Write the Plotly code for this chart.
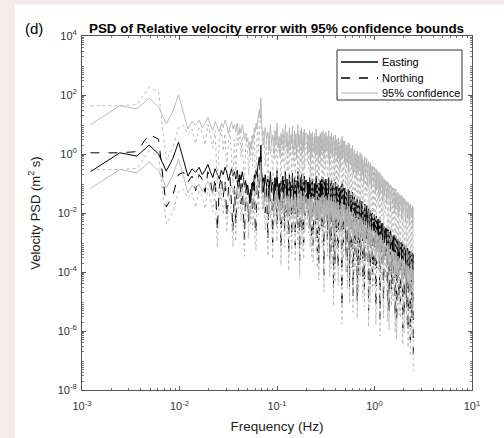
import plotly.graph_objects as go

# ---------------- data ----------------
# frequency resolution of the PSD (Hz per bin)
bin_width_hz = 5.0 / 4096

# low-frequency bins (every bin); values are log10 of PSD (m^2 s)
bins_low = [1, 2, 3, 4, 5, 6, 7, 8, 9, 10, 11, 12, 13, 14, 15, 16, 17, 18, 19, 20,
            21, 22, 23, 24, 25, 26, 27, 28, 29, 30, 31, 32, 33, 34, 35, 36, 37, 38, 39, 40,
            41, 42, 43, 44, 45, 46, 47, 48, 49, 50, 51, 52, 53, 54, 55, 56, 57]
east_low = [-0.60, 0.04, -0.07, 0.30, 0.00, -0.58, -0.15, 0.40, -0.20, -0.75,
            -0.50, -0.62, -0.45, -0.70, -0.55, -0.35, -0.60, -0.80, -0.50, -0.66,
            -0.85, -0.55, -0.70, -0.45, -0.62, -0.90, -0.70, -0.50, -0.75, -0.60,
            -0.85, -0.55, -0.95, -0.70, -0.88, -0.60, -0.80, -1.10, -0.90, -1.20,
            -1.05, -1.35, -1.56, -1.20, -1.40, -0.95, -1.10, -0.70, -0.85, -0.55,
            -0.75, -0.45, -0.30, -0.10, -0.40, 0.30, -0.60]
north_low = [0.04, 0.04, 0.08, 0.67, 0.50, -1.80, -1.40, -0.70, -0.62, -0.95,
             -0.75, -1.25, -0.70, -0.85, -1.30, -0.60, -0.90, -1.40, -0.80, -2.60,
             -1.10, -0.75, -1.50, -0.90, -2.10, -1.20, -0.80, -1.60, -2.60, -1.10,
             -2.40, -0.90, -1.30, -0.75, -1.70, -1.00, -2.20, -2.90, -1.40, -0.90,
             -1.60, -2.30, -1.20, -1.80, -1.00, -2.00, -1.30, -0.80, -2.50, -2.70,
             -1.10, -0.70, -1.50, -0.50, -0.30, -0.20, -1.20]

# middle bins
bins_mid = [58, 60, 62, 64, 66, 68, 70, 72, 74, 76, 78, 80, 82, 84, 86, 88, 90, 92, 94, 96,
            98, 100, 102, 104, 106, 108, 110, 112, 114, 116, 118, 120, 122, 124, 126, 128,
            130, 132, 134, 136, 138, 140, 142, 144, 146, 148, 150, 152, 154, 156, 158, 160]
east_mid = [-0.90, -1.30, -0.70, -1.10, -0.85, -1.50, -0.60, -1.20, -0.95, -1.60,
            -0.80, -1.25, -0.55, -1.40, -1.00, -1.70, -0.90, -1.30, -0.75, -1.50,
            -1.05, -0.60, -1.35, -0.85, -1.60, -1.00, -0.70, -1.45, -0.95, -1.25,
            -0.65, -1.55, -1.10, -0.80, -1.40, -0.90, -1.70, -1.00, -0.60, -1.30,
            -0.95, -1.50, -0.80, -1.20, -0.70, -1.60, -1.00, -0.85, -1.45, -0.75,
            -1.30, -0.90]
north_mid = [-1.30, -0.80, -2.00, -1.00, -2.90, -0.90, -1.60, -1.10, -3.00, -1.00,
             -1.80, -0.85, -2.40, -1.20, -1.50, -1.00, -3.20, -1.10, -1.90, -0.90,
             -2.60, -1.30, -1.00, -2.20, -1.20, -3.40, -1.00, -1.70, -1.10, -2.80,
             -0.95, -1.50, -2.00, -1.10, -3.10, -1.00, -1.80, -1.20, -2.50, -0.90,
             -1.60, -3.60, -1.10, -1.90, -1.00, -2.70, -1.20, -1.50, -3.00, -1.00,
             -2.10, -1.30]

# high-frequency bins (first set)
bins_high = [165, 169, 173, 177, 181, 185, 189, 194, 198, 203,
             207, 212, 217, 222, 227, 232, 237, 243, 248, 254,
             260, 266, 272, 278, 284, 291, 297, 304, 311, 318,
             325, 333, 340, 348, 356, 364, 372, 381, 389, 398,
             407, 416, 426, 435, 445, 455, 466, 476, 487, 498,
             510, 521, 533, 545, 557, 570, 583, 596, 610, 624,
             638, 652, 667, 682, 698, 713, 730, 746, 763, 780,
             798, 816, 835, 854, 873, 893, 913, 934, 955, 976,
             999, 1021, 1044, 1068, 1092, 1117, 1142, 1168, 1195, 1222,
             1249, 1278, 1307, 1336, 1367, 1397, 1429, 1461, 1494, 1528,
             1563, 1598, 1634, 1671, 1709, 1748, 1787, 1828, 1869, 1911,
             1955, 1999, 2024, 2048]
east_high = [-0.90, -1.60, -1.10, -0.80, -1.80, -1.20, -0.85, -1.50, -1.00, -1.70,
             -0.75, -1.30, -1.90, -1.00, -0.90, -1.60, -1.15, -0.80, -1.75, -1.05,
             -0.85, -1.50, -1.20, -0.80, -2.00, -1.10, -0.90, -1.65, -1.00, -1.80,
             -0.95, -1.40, -1.90, -1.05, -1.30, -2.10, -1.10, -1.00, -1.70, -1.20,
             -1.15, -2.00, -1.30, -1.60, -2.20, -1.25, -1.45, -1.90, -1.30, -2.30,
             -1.45, -1.80, -2.40, -1.50, -1.70, -2.20, -1.55, -2.50, -1.60, -1.90,
             -2.60, -1.70, -2.10, -1.75, -2.70, -1.85, -2.30, -1.90, -2.80, -2.00,
             -2.40, -2.05, -2.90, -2.10, -2.60, -2.20, -3.10, -2.25, -2.70, -2.35,
             -3.20, -2.45, -2.90, -2.50, -3.30, -2.55, -3.00, -2.65, -3.50, -2.70,
             -3.10, -2.75, -3.60, -2.80, -3.20, -2.90, -3.70, -2.95, -3.30, -3.00,
             -3.80, -3.05, -3.50, -3.10, -3.90, -3.20, -3.60, -3.25, -4.00, -3.30,
             -3.70, -3.35, -4.10, -3.40]
north_high = [-1.20, -0.95, -2.10, -1.00, -1.50, -2.90, -1.05, -1.40, -0.90, -2.40,
              -1.10, -3.30, -1.00, -1.60, -1.20, -0.95, -2.60, -1.10, -4.10, -1.00,
              -1.50, -1.15, -2.30, -0.95, -3.60, -1.20, -1.80, -1.05, -4.60, -1.30,
              -1.10, -2.70, -1.25, -3.90, -1.15, -1.90, -1.30, -5.20, -1.20, -2.50,
              -1.35, -3.40, -1.30, -2.20, -1.45, -4.50, -1.40, -2.80, -1.50, -3.70,
              -1.55, -2.40, -1.60, -5.00, -1.65, -3.10, -1.70, -2.60, -1.75, -4.30,
              -1.80, -3.30, -1.85, -2.70, -1.90, -5.30, -1.95, -3.50, -2.00, -4.10,
              -2.05, -2.90, -2.10, -4.80, -2.15, -3.40, -2.20, -5.60, -2.30, -3.70,
              -2.35, -4.40, -2.45, -3.30, -2.50, -5.10, -2.55, -3.80, -2.60, -4.60,
              -2.70, -3.60, -2.75, -5.50, -2.80, -4.10, -2.90, -4.90, -2.95, -3.90,
              -3.00, -5.90, -3.10, -4.30, -3.15, -5.20, -3.20, -4.60, -3.30, -6.30,
              -3.40, -5.00, -3.50, -6.80]

# high-frequency bins (second set, lying between the first set)
bins_high_b = [167, 171, 175, 179, 183, 187, 192, 196, 200, 205,
               210, 215, 220, 225, 230, 235, 240, 246, 251, 257,
               263, 269, 275, 281, 288, 294, 301, 308, 315, 322,
               329, 337, 344, 352, 360, 368, 377, 385, 394, 403,
               412, 421, 431, 440, 450, 461, 471, 482, 493, 504,
               516, 527, 539, 551, 564, 577, 590, 603, 617, 631,
               645, 660, 675, 690, 706, 722, 738, 755, 772, 789,
               807, 826, 845, 864, 883, 903, 924, 945, 966, 988,
               1010, 1033, 1056, 1080, 1105, 1130, 1155, 1182, 1209, 1236,
               1264, 1293, 1322, 1352, 1382, 1413, 1445, 1478, 1511, 1546,
               1581, 1616, 1653, 1690, 1729, 1768, 1808, 1849, 1890, 1933,
               1977, 2012, 2036]
east_high_b = [-1.40, -0.95, -1.50, -1.25, -0.90, -1.65, -1.10, -1.30, -1.55, -0.95,
               -1.60, -1.00, -1.40, -1.70, -1.20, -0.85, -1.50, -1.35, -0.90, -1.55,
               -1.10, -1.00, -1.75, -1.45, -1.00, -1.60, -1.30, -1.10, -1.45, -1.20,
               -1.60, -1.10, -1.30, -1.75, -1.50, -1.20, -1.80, -1.45, -1.15, -1.85,
               -1.70, -1.35, -1.90, -1.20, -1.50, -1.95, -1.40, -2.10, -1.60, -1.75,
               -2.10, -1.60, -1.70, -2.20, -1.65, -2.00, -1.80, -1.65, -2.30, -2.20,
               -1.90, -2.40, -1.85, -2.30, -2.10, -2.05, -2.60, -2.25, -2.00, -2.50,
               -2.60, -2.30, -2.45, -2.80, -2.35, -2.75, -2.40, -2.90, -2.50, -2.65,
               -2.70, -3.00, -2.65, -3.20, -2.80, -3.10, -2.75, -3.25, -2.90, -3.05,
               -3.30, -3.00, -3.15, -3.50, -3.05, -3.40, -3.20, -3.55, -3.10, -3.45,
               -3.30, -3.60, -3.25, -3.70, -3.40, -3.50, -3.80, -3.45, -3.60, -3.50,
               -3.60, -3.90, -3.70]
north_high_b = [-1.90, -1.10, -1.30, -2.60, -0.95, -1.70, -3.10, -1.20, -1.50, -1.00,
                -2.20, -1.30, -3.70, -1.05, -2.00, -1.40, -1.15, -3.00, -1.30, -2.10,
                -1.20, -2.90, -1.05, -1.90, -1.40, -3.30, -1.25, -2.00, -1.15, -3.80,
                -1.70, -1.20, -3.20, -1.35, -2.40, -1.25, -4.40, -1.60, -3.00, -1.30,
                -2.50, -1.40, -4.00, -1.50, -2.70, -1.60, -3.30, -1.55, -4.80, -1.60,
                -3.40, -1.70, -2.80, -1.75, -4.10, -1.80, -3.60, -1.85, -2.90, -1.90,
                -4.60, -1.95, -3.00, -2.00, -3.90, -2.10, -4.50, -2.15, -3.20, -2.20,
                -3.90, -2.30, -5.20, -2.35, -3.10, -2.40, -4.30, -2.50, -3.60, -2.55,
                -5.00, -2.60, -3.60, -2.70, -4.20, -2.75, -5.40, -2.80, -3.70, -2.90,
                -4.40, -2.95, -3.80, -3.00, -5.70, -3.10, -4.20, -3.20, -5.00, -3.25,
                -4.10, -3.30, -5.50, -3.35, -4.40, -3.45, -6.00, -3.50, -4.80, -3.60,
                -5.60, -3.70, -4.50]

# 95% confidence multipliers for a 2-degree-of-freedom spectral estimate
ci_upper_factor = 39.5
ci_lower_factor = 0.271

x_ticks = [1e-3, 1e-2, 1e-1, 1e0, 1e1]
x_tick_text = ["10<sup>-3</sup>", "10<sup>-2</sup>", "10<sup>-1</sup>", "10<sup>0</sup>", "10<sup>1</sup>"]
y_ticks = [1e-8, 1e-6, 1e-4, 1e-2, 1e0, 1e2, 1e4]
y_tick_text = ["10<sup>-8</sup>", "10<sup>-6</sup>", "10<sup>-4</sup>", "10<sup>-2</sup>",
               "10<sup>0</sup>", "10<sup>2</sup>", "10<sup>4</sup>"]
legend_names = ["Easting", "Northing", "95% confidence"]

# ---------------- assemble ----------------
rows = sorted(zip(bins_low + bins_mid + bins_high + bins_high_b,
                  east_low + east_mid + east_high + east_high_b,
                  north_low + north_mid + north_high + north_high_b))
freq = [r[0] * bin_width_hz for r in rows]
east = [10 ** r[1] for r in rows]
north = [10 ** r[2] for r in rows]

east_up = [v * ci_upper_factor for v in east]
east_lo = [v * ci_lower_factor for v in east]
north_up = [v * ci_upper_factor for v in north]
north_lo = [v * ci_lower_factor for v in north]

GRAY = "#b4b4b4"
FONT = "Liberation Sans, Arial, sans-serif"
fig = go.Figure()
fig.add_trace(go.Scatter(x=freq, y=east, mode="lines", line=dict(color="black", width=1.0),
                         name="Easting", showlegend=False))
fig.add_trace(go.Scatter(x=freq, y=north, mode="lines", line=dict(color="black", width=1.0, dash="dash"),
                         name="Northing", showlegend=False))
fig.add_trace(go.Scatter(x=freq, y=east_up, mode="lines", line=dict(color=GRAY, width=0.9),
                         name="95% confidence", showlegend=False))
fig.add_trace(go.Scatter(x=freq, y=east_lo, mode="lines", line=dict(color=GRAY, width=0.9),
                         name="95% confidence", showlegend=False))
fig.add_trace(go.Scatter(x=freq, y=north_up, mode="lines", line=dict(color=GRAY, width=0.9, dash="dot"),
                         name="95% confidence", showlegend=False))
fig.add_trace(go.Scatter(x=freq, y=north_lo, mode="lines", line=dict(color=GRAY, width=0.9, dash="dot"),
                         name="95% confidence", showlegend=False))

minor_x = [m * 10 ** d for d in range(-3, 1) for m in range(2, 10)]
minor_y = [m * 10 ** d for d in range(-8, 4) for m in range(2, 10)]

axis_common = dict(type="log", showgrid=False, zeroline=False, showline=True, linecolor="#555",
                   linewidth=1, mirror="allticks", ticks="inside", ticklen=4, tickcolor="#555",
                   automargin=False,
                   tickfont=dict(family=FONT, size=11, color="#333"))

fig.update_xaxes(range=[-3, 1], tickmode="array", tickvals=x_ticks, ticktext=x_tick_text,
                 ticklabelstandoff=6,
                 minor=dict(tickmode="array", tickvals=minor_x, ticks="inside", ticklen=2, tickcolor="#777"),
                 title=dict(text="Frequency (Hz)", font=dict(family=FONT, size=13.5, color="#222"),
                            standoff=10),
                 **axis_common)
fig.update_yaxes(range=[-8, 4], tickmode="array", tickvals=y_ticks, ticktext=y_tick_text,
                 ticklabelstandoff=2,
                 minor=dict(tickmode="array", tickvals=minor_y, ticks="inside", ticklen=2, tickcolor="#777"),
                 title=dict(text="Velocity PSD (m<sup>2</sup> s)",
                            font=dict(family=FONT, size=13, color="#222"), standoff=14),
                 **axis_common)

# plot-area geometry in pixels (used to place the hand-drawn legend box)
L, T, W, H = 82, 36, 390, 354
def px(x):
    return (x - L) / W
def py(y):
    return (T + H - y) / H

shapes = [
    # light page background visible at the left and top edges
    dict(type="rect", xref="paper", yref="paper", x0=px(0), x1=px(15), y0=py(438), y1=py(0),
         fillcolor="#f4ecea", line=dict(width=0), layer="below"),
    dict(type="rect", xref="paper", yref="paper", x0=px(0), x1=px(504), y0=py(5), y1=py(0),
         fillcolor="#f4ecea", line=dict(width=0), layer="below"),
    # legend box
    dict(type="rect", xref="paper", yref="paper", x0=px(337), x1=px(462), y0=py(100), y1=py(50),
         fillcolor="white", line=dict(color="#333", width=1), layer="above"),
]
legend_styles = [dict(color="black", width=1.3), dict(color="black", width=1.3, dash="dash"),
                 dict(color=GRAY, width=1)]
legend_rows = [62, 78, 93]
annotations = []
for name, style, row in zip(legend_names, legend_styles, legend_rows):
    shapes.append(dict(type="line", xref="paper", yref="paper", x0=px(341), x1=px(378),
                       y0=py(row), y1=py(row), line=style, layer="above"))
    annotations.append(dict(text=name, xref="paper", yref="paper", x=px(380), y=py(row),
                            xanchor="left", yanchor="middle", showarrow=False,
                            font=dict(family=FONT, size=11, color="black")))
annotations.append(dict(text="(d)", xref="paper", yref="paper", x=px(34), y=py(29), showarrow=False,
                        xanchor="center", yanchor="middle",
                        font=dict(family=FONT, size=15, color="black")))

fig.update_layout(
    width=504, height=438,
    margin=dict(l=L, r=504 - L - W, t=T, b=438 - T - H, autoexpand=False),
    paper_bgcolor="white",
    plot_bgcolor="white",
    title=dict(text="<b>PSD of Relative velocity error with 95% confidence bounds</b>",
               font=dict(family=FONT, size=13.4, color="black"),
               x=276.5 / 504, xanchor="center", y=1 - 28 / 438, yanchor="middle"),
    showlegend=False,
    shapes=shapes,
    annotations=annotations,
)

fig.write_html("out.html", config={"displayModeBar": False},
               post_script="document.body.style.margin='0';")
